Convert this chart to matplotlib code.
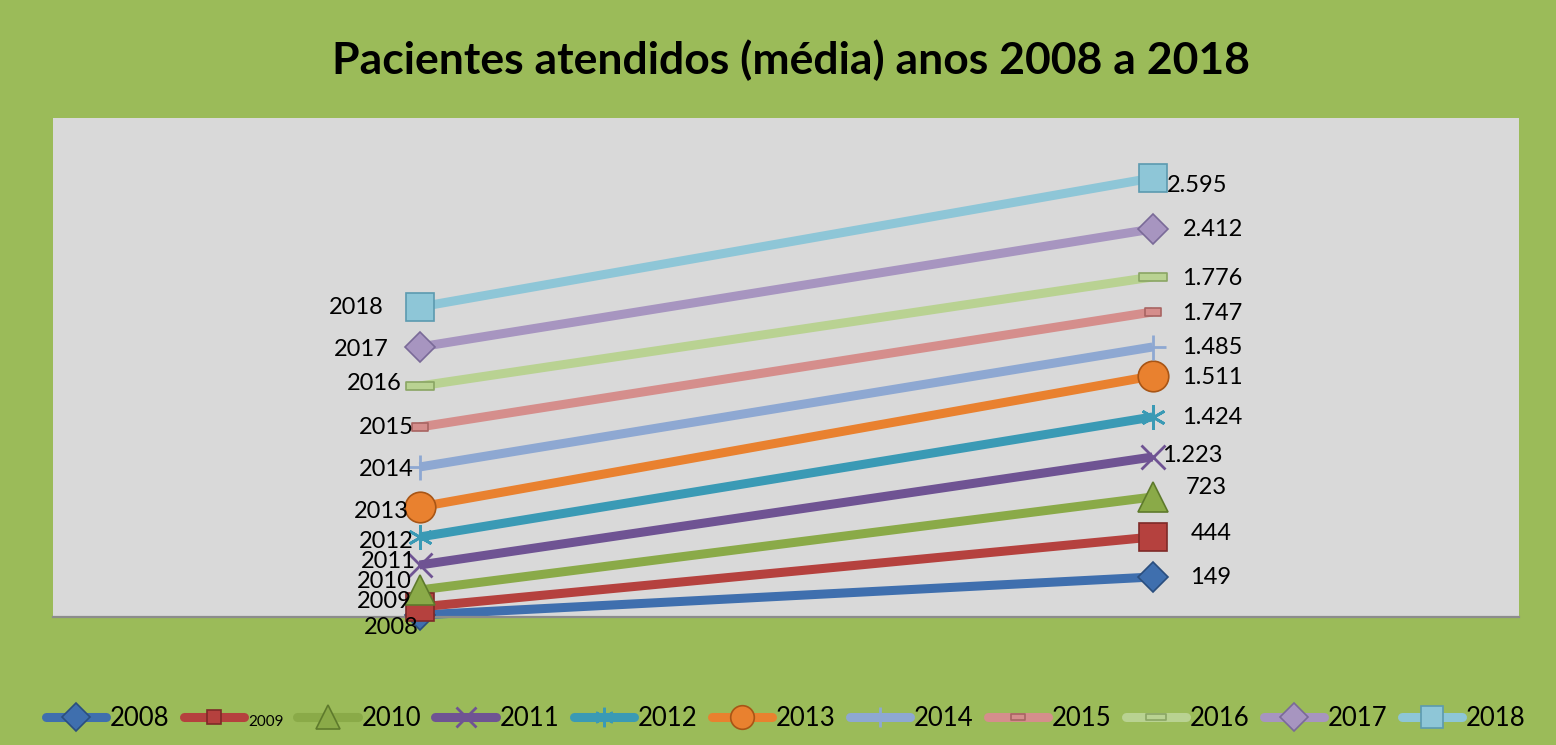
import matplotlib
matplotlib.use("Agg")
import matplotlib.pyplot as plt
from matplotlib.lines import Line2D
from matplotlib.path import Path

plt.rcParams['font.family'] = ['Lato', 'DejaVu Sans']

# --------------------------------------------------
# Data
# --------------------------------------------------
anos = ['2008', '2009', '2010', '2011', '2012', '2013', '2014', '2015', '2016', '2017', '2018']
# values shown at the right end of each line
valores = [149, 444, 723, 1223, 1424, 1511, 1485, 1747, 1776, 2412, 2595]
# plotted levels (chart units) at the two category positions
nivel_ini = [2, 10, 27, 52, 80, 110, 150, 190, 231, 270, 310]
nivel_fim = [40, 80, 120, 160, 200, 241, 270, 305, 340, 388, 439]

cores = ['#3F6FAE', '#B5413E', '#8AAA48', '#6F5393', '#3A9AB5', '#E9812F',
         '#8EA8D2', '#D58E8C', '#B9D292', '#A795C0', '#8EC6D7']
bordas = ['#2A4E7E', '#7E2A28', '#5E7A2C', '#4B3566', '#25708A', '#A85515',
          '#6A86B8', '#A86462', '#8AA564', '#7A6A98', '#5C9AB0']


def retangulo(h):
    return Path([(-1, -h), (1, -h), (1, h), (-1, h), (-1, -h)],
                [Path.MOVETO, Path.LINETO, Path.LINETO, Path.LINETO, Path.CLOSEPOLY])


marcadores = ['D', 's', '^', 'x', (6, 2, 0), 'o', '+', retangulo(0.45), retangulo(0.3), 'D', 's']
tam = [15, 20, 21, 17, 18, 22, 18, 12, 20, 15, 20]
tam_leg = [14, 10, 17, 14, 14, 17, 14, 10, 14, 14, 16]

# label offsets in pixels (dx, dy with up positive)
off_esq = [(-1, -12), (-8, 6), (-8, 9), (-4, 4), (-6, -5), (-11, -4),
           (-6, -2), (-6, 0), (-18, 2), (-31, -2), (-36, 0)]
off_dir = [(38, -1), (38, 4), (33, 9), (10, 1), (30, 0), (30, -1),
           (30, 0), (30, -1), (30, -1), (30, -1), (14, -7)]

# --------------------------------------------------
# Plot
# --------------------------------------------------
fig = plt.figure(figsize=(15.56, 7.45), dpi=100, facecolor='#9BBB59')
ax = fig.add_axes([53/1556, 1-617/745, (1519-53)/1556, (617-118)/745])
ax.set_facecolor('#D9D9D9')
ax.set_xlim(0.5, 2.5)
ax.set_ylim(0, 499)

for i, ano in enumerate(anos):
    ax.plot([1, 2], [nivel_ini[i], nivel_fim[i]], color=cores[i], linewidth=6.5,
            solid_capstyle='butt', zorder=2 + i * 0.1, clip_on=False)
    linhas_finas = marcadores[i] in ('x', '+') or isinstance(marcadores[i], tuple)
    ax.plot([1, 2], [nivel_ini[i], nivel_fim[i]], linestyle='none',
            marker=marcadores[i], markersize=tam[i],
            markerfacecolor=cores[i],
            markeredgecolor=cores[i] if linhas_finas else bordas[i],
            markeredgewidth=2 if linhas_finas else 1.2,
            zorder=3 + i * 0.1, clip_on=False)

    ax.annotate(ano, (1, nivel_ini[i]), xytext=off_esq[i], textcoords='offset pixels',
                ha='right', va='center', fontsize=17, color='black', zorder=5)
    rotulo = f"{valores[i]:,}".replace(',', '.')
    ax.annotate(rotulo, (2, nivel_fim[i]), xytext=off_dir[i], textcoords='offset pixels',
                ha='left', va='center', fontsize=17, color='black', zorder=5)

for s in ['top', 'right', 'left']:
    ax.spines[s].set_visible(False)
ax.spines['bottom'].set_color('#8C8C8C')
ax.spines['bottom'].set_linewidth(1.6)
ax.set_xticks([])
ax.set_yticks([])

fig.text(791/1556, 1 - 60/745, 'Pacientes atendidos (média) anos 2008 a 2018',
         ha='center', va='center', fontsize=32, fontweight='bold')

handles = []
for i, ano in enumerate(anos):
    linhas_finas = marcadores[i] in ('x', '+') or isinstance(marcadores[i], tuple)
    handles.append(Line2D([], [], color=cores[i], linewidth=6.5, solid_capstyle='round',
                          marker=marcadores[i], markersize=tam_leg[i],
                          markerfacecolor=cores[i],
                          markeredgecolor=cores[i] if linhas_finas else bordas[i],
                          markeredgewidth=2 if linhas_finas else 1.2))

leg = fig.legend(handles, anos, loc='center', bbox_to_anchor=(0.505, 1 - 718/745),
                 ncol=11, frameon=False, fontsize=18.5, handlelength=2.35,
                 handletextpad=0.15, columnspacing=0.55, borderaxespad=0)
leg.get_texts()[1].set_fontsize(11)

fig.savefig('out.png', dpi=100, facecolor=fig.get_facecolor())
